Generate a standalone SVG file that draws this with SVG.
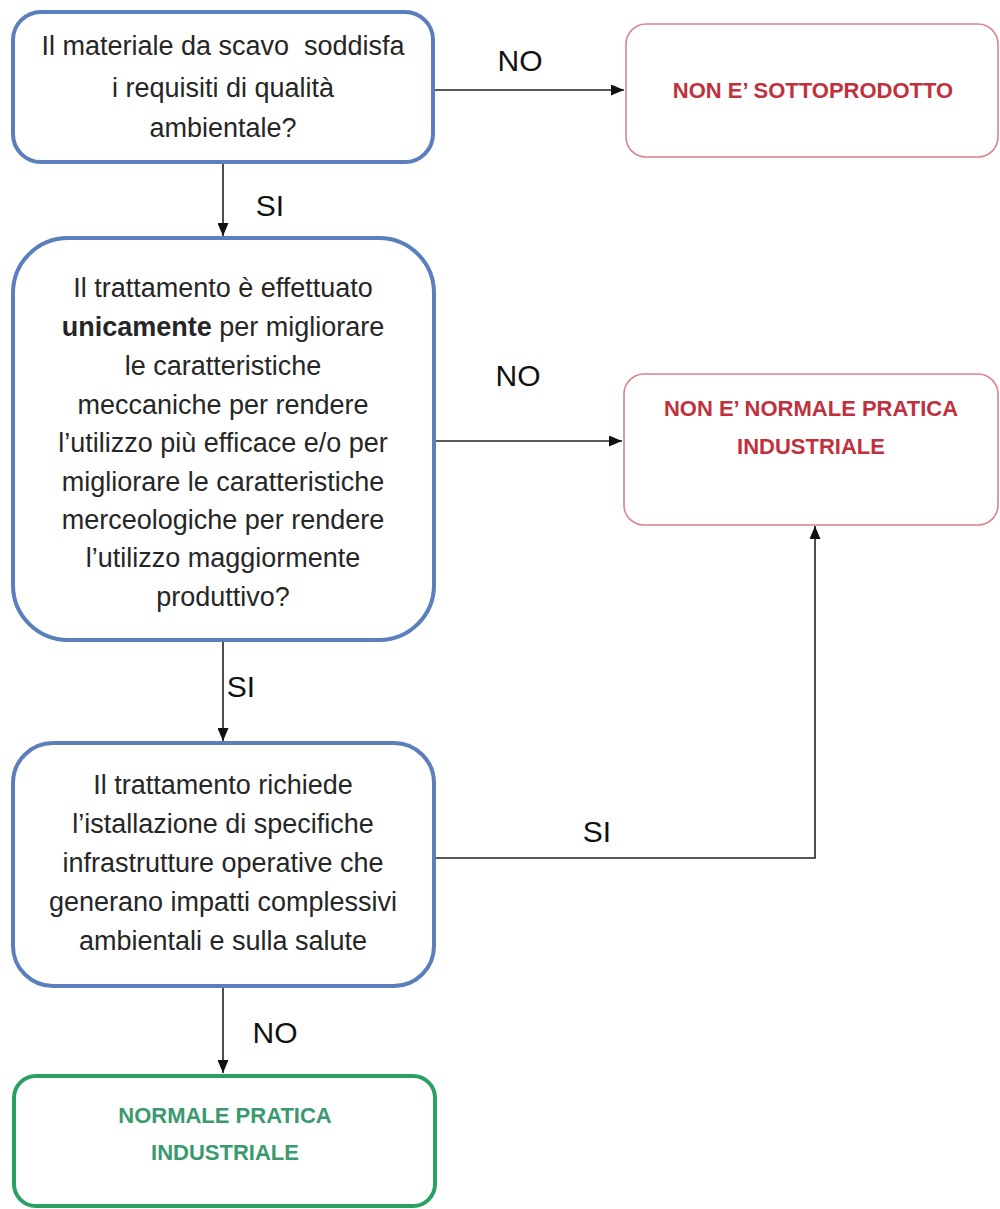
<svg xmlns="http://www.w3.org/2000/svg" width="1000" height="1209" viewBox="0 0 1000 1209">
<style>
.q{fill:#fff;stroke:#5a7fbc;stroke-width:4}
.r{fill:#fff;stroke:#d9848c;stroke-width:1.6}
.g{fill:#fff;stroke:#2aa063;stroke-width:4}
.t{font-family:"Liberation Sans",Arial,sans-serif;font-size:27px;fill:#262626;text-anchor:middle;white-space:pre}
.rt{font-family:"Liberation Sans",Arial,sans-serif;font-size:22px;font-weight:bold;fill:#c0313e;text-anchor:middle}
.gt{font-family:"Liberation Sans",Arial,sans-serif;font-size:22px;font-weight:bold;fill:#3a9a6e;text-anchor:middle}
.lb{font-family:"Liberation Sans",Arial,sans-serif;font-size:30px;fill:#111;text-anchor:middle}
.c{fill:none;stroke:#222;stroke-width:1.6}
</style>
<defs>
<marker id="ah" markerUnits="userSpaceOnUse" markerWidth="13" markerHeight="11" refX="13" refY="5.5" orient="auto">
<path d="M0,0 L13,5.5 L0,11 Z" fill="#111"/>
</marker>
</defs>
<rect width="1000" height="1209" fill="#fff"/>
<g id="connectors">
<path class="c" d="M434,90 H624" marker-end="url(#ah)"/>
<path class="c" d="M223,163 V236" marker-end="url(#ah)"/>
<path class="c" d="M434,441 H622" marker-end="url(#ah)"/>
<path class="c" d="M223,641 V741" marker-end="url(#ah)"/>
<path class="c" d="M434,858 H815 V526" marker-end="url(#ah)"/>
<path class="c" d="M223,987 V1073" marker-end="url(#ah)"/>
<text class="lb" x="520" y="71">NO</text>
<text class="lb" x="270" y="216">SI</text>
<text class="lb" x="518" y="386">NO</text>
<text class="lb" x="241" y="697">SI</text>
<text class="lb" x="597" y="842">SI</text>
<text class="lb" x="275" y="1043">NO</text>
</g>
<g id="q1">
<rect class="q" x="13" y="12" width="420" height="150" rx="28"/>
<text class="t" x="223" y="55" xml:space="preserve">Il materiale da scavo  soddisfa</text>
<text class="t" x="223" y="97">i requisiti di qualità</text>
<text class="t" x="223" y="137">ambientale?</text>
</g>
<g id="r1">
<rect class="r" x="626" y="24" width="372" height="133" rx="20"/>
<text class="rt" x="813" y="98">NON E’ SOTTOPRODOTTO</text>
</g>
<g id="q2">
<rect class="q" x="13" y="238" width="421" height="402" rx="55"/>
<text class="t" x="223" y="297">Il trattamento è effettuato</text>
<text class="t" x="223" y="336"><tspan font-weight="bold">unicamente</tspan> per migliorare</text>
<text class="t" x="223" y="375">le caratteristiche</text>
<text class="t" x="223" y="414">meccaniche per rendere</text>
<text class="t" x="223" y="452">l’utilizzo più efficace e/o per</text>
<text class="t" x="223" y="491">migliorare le caratteristiche</text>
<text class="t" x="223" y="529">merceologiche per rendere</text>
<text class="t" x="223" y="567">l’utilizzo maggiormente</text>
<text class="t" x="223" y="606">produttivo?</text>
</g>
<g id="r2">
<rect class="r" x="624" y="374" width="374" height="151" rx="20"/>
<text class="rt" x="811" y="416">NON E’ NORMALE PRATICA</text>
<text class="rt" x="811" y="454">INDUSTRIALE</text>
</g>
<g id="q3">
<rect class="q" x="13" y="743" width="421" height="243" rx="40"/>
<text class="t" x="223" y="794">Il trattamento richiede</text>
<text class="t" x="223" y="833">l’istallazione di specifiche</text>
<text class="t" x="223" y="872">infrastrutture operative che</text>
<text class="t" x="223" y="911">generano impatti complessivi</text>
<text class="t" x="223" y="950">ambientali e sulla salute</text>
</g>
<g id="g1">
<rect class="g" x="14" y="1076" width="421" height="130" rx="22"/>
<text class="gt" x="225" y="1123">NORMALE PRATICA</text>
<text class="gt" x="225" y="1160">INDUSTRIALE</text>
</g>
</svg>
